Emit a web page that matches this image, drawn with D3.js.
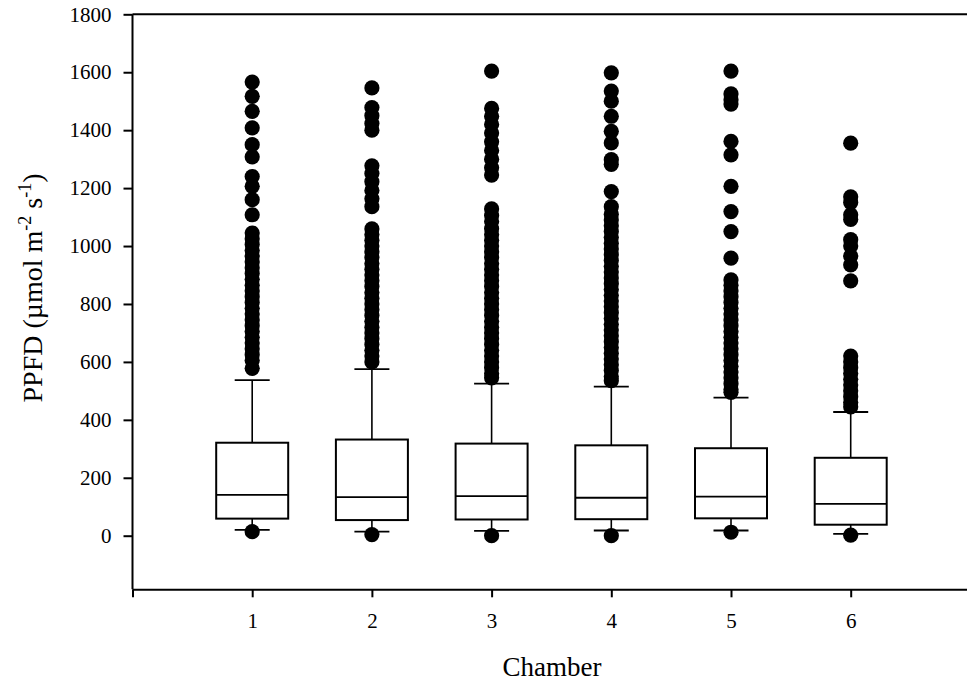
<!DOCTYPE html>
<html>
<head>
<meta charset="utf-8">
<script src="https://cdn.jsdelivr.net/npm/d3@7"></script>
<style>
  body { margin: 0; background: #fff; }
  svg text { font-family: "Liberation Serif", "Times New Roman", serif; fill: #000; }
</style>
</head>
<body>
<svg id="chart" width="967" height="686"></svg>
<script>
// chamber numbers
var chambers = [1, 2, 3, 4, 5, 6];

// box statistics
var q1 = [59, 54, 56, 57, 60, 38];
var median = [141, 133, 137, 131, 135, 110];
var q3 = [321, 332, 318, 312, 302, 269];
var whiskerLow = [20, 14, 17, 18, 18, 6];
var whiskerHigh = [537, 575, 525, 515, 477, 427];

// outliers per chamber
var outliers1 = [1566, 1517, 1465, 1408, 1350, 1308, 1240, 1206, 1160, 1108,
  1045, 1025, 1005, 985, 965, 945, 925, 905, 885, 865, 845, 825, 805, 785,
  765, 745, 725, 705, 685, 665, 645, 625, 605, 578, 14];
var outliers2 = [1546, 1478, 1450, 1423, 1400, 1277, 1250, 1222, 1192, 1163, 1136,
  1059, 1040, 1020, 1000, 980, 960, 940, 920, 900, 880, 860, 840, 820, 800,
  780, 760, 740, 720, 700, 680, 660, 640, 620, 600, 4];
var outliers3 = [1604, 1475, 1448, 1420, 1390, 1360, 1330, 1300, 1270, 1245,
  1128, 1105, 1085, 1060, 1040, 1020, 1000, 980, 960, 940, 920, 900, 880, 860,
  840, 820, 800, 780, 760, 740, 720, 700, 680, 660, 640, 620, 600, 580, 560, 545, 0];
var outliers4 = [1598, 1535, 1500, 1448, 1396, 1356, 1298, 1282, 1188, 1136,
  1110, 1090, 1070, 1050, 1030, 1010, 990, 970, 950, 930, 910, 890, 870, 850,
  830, 810, 790, 770, 750, 730, 710, 690, 670, 650, 630, 610, 590, 570, 550, 535, 0];
var outliers5 = [1604, 1525, 1505, 1490, 1361, 1315, 1206, 1119, 1050, 958,
  883, 865, 845, 825, 805, 785, 765, 745, 725, 705, 685, 665, 645, 625, 605,
  585, 565, 545, 525, 505, 495, 12];
var outliers6 = [1355, 1170, 1150, 1108, 1092, 1022, 1000, 965, 935, 880,
  620, 600, 580, 560, 540, 520, 500, 480, 460, 445, 2];
var outliers = [outliers1, outliers2, outliers3, outliers4, outliers5, outliers6];

var yTicks = [0, 200, 400, 600, 800, 1000, 1200, 1400, 1600, 1800];
var xTicks = [0, 1, 2, 3, 4, 5, 6];

var svg = d3.select("#chart");

var x = d3.scaleLinear().domain([0, 7]).range([132.5, 970.4]);
var y = d3.scaleLinear().domain([-185, 1800]).range([589.3, 14.3]);

var boxW = 72, capW = 35, dotR = 7.6;

// top frame line
svg.append("line")
    .attr("x1", x(0)).attr("x2", 967)
    .attr("y1", y(1800)).attr("y2", y(1800))
    .attr("stroke", "#000").attr("stroke-width", 2);

// boxes
var g = svg.append("g");
chambers.forEach(function(c, i) {
    var cx = x(c);
    // whiskers
    g.append("line").attr("x1", cx).attr("x2", cx)
        .attr("y1", y(q3[i])).attr("y2", y(whiskerHigh[i]))
        .attr("stroke", "#000").attr("stroke-width", 1.6);
    g.append("line").attr("x1", cx).attr("x2", cx)
        .attr("y1", y(q1[i])).attr("y2", y(whiskerLow[i]))
        .attr("stroke", "#000").attr("stroke-width", 1.6);
    g.append("line").attr("x1", cx - capW / 2).attr("x2", cx + capW / 2)
        .attr("y1", y(whiskerHigh[i])).attr("y2", y(whiskerHigh[i]))
        .attr("stroke", "#000").attr("stroke-width", 1.8);
    g.append("line").attr("x1", cx - capW / 2).attr("x2", cx + capW / 2)
        .attr("y1", y(whiskerLow[i])).attr("y2", y(whiskerLow[i]))
        .attr("stroke", "#000").attr("stroke-width", 1.8);
    // box
    g.append("rect")
        .attr("x", cx - boxW / 2).attr("width", boxW)
        .attr("y", y(q3[i])).attr("height", y(q1[i]) - y(q3[i]))
        .attr("fill", "#fff").attr("stroke", "#000").attr("stroke-width", 2);
    g.append("line").attr("x1", cx - boxW / 2).attr("x2", cx + boxW / 2)
        .attr("y1", y(median[i])).attr("y2", y(median[i]))
        .attr("stroke", "#000").attr("stroke-width", 1.8);
    // outliers
    g.selectAll(null)
        .data(outliers[i])
        .enter()
        .append("circle")
        .attr("cx", cx)
        .attr("cy", function(d) { return y(d); })
        .attr("r", dotR)
        .attr("fill", "#000");
});

// y axis
var yAxis = svg.append("g")
    .attr("transform", "translate(" + x(0) + ",0)")
    .call(d3.axisLeft(y).tickValues(yTicks).tickSize(9).tickPadding(12).tickSizeOuter(0)
        .tickFormat(d3.format("d")));
yAxis.select(".domain").attr("stroke-width", 2).attr("d", "M0," + y(1800) + "V" + y(-185));
yAxis.selectAll(".tick line").attr("stroke-width", 2);
yAxis.selectAll("text").style("font-size", "21px").attr("font-family", null);

// x axis
var xAxis = svg.append("g")
    .attr("transform", "translate(0," + y(-185) + ")")
    .call(d3.axisBottom(x).tickValues(xTicks).tickSize(8).tickPadding(16).tickSizeOuter(0)
        .tickFormat(function(d) { return d === 0 ? "" : d; }));
xAxis.select(".domain").attr("stroke-width", 2);
xAxis.selectAll(".tick line").attr("stroke-width", 2);
xAxis.selectAll("text").style("font-size", "21px").attr("font-family", null);

// axis titles
svg.append("text")
    .attr("x", 552).attr("y", 676)
    .attr("text-anchor", "middle")
    .style("font-size", "27px")
    .text("Chamber");

var yt = svg.append("text")
    .attr("transform", "translate(42,288) rotate(-90)")
    .attr("text-anchor", "middle")
    .style("font-size", "28px");
yt.append("tspan").text("PPFD (\u00b5mol m");
yt.append("tspan").attr("dy", -11).style("font-size", "18px").text("-2");
yt.append("tspan").attr("dy", 11).text(" s");
yt.append("tspan").attr("dy", -11).style("font-size", "18px").text("-1");
yt.append("tspan").attr("dy", 11).text(")");
</script>
</body>
</html>
